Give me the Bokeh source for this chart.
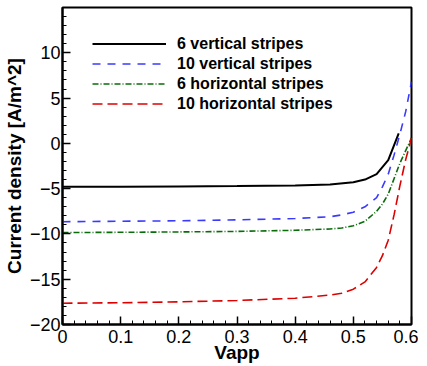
from bokeh.plotting import figure
from bokeh.models import FixedTicker, Legend, LegendItem, Range1d
from bokeh.embed import file_html
from bokeh.resources import INLINE

# ---- data ----
v_black = [0.0, 0.1, 0.2, 0.3, 0.4, 0.46, 0.50, 0.52, 0.54, 0.56, 0.578]
j_6_vertical = [-4.8, -4.78, -4.75, -4.72, -4.65, -4.55, -4.3, -4.0, -3.4, -1.85, 1.1]

v_grid = [0.0, 0.1, 0.2, 0.3, 0.4, 0.46, 0.48, 0.50, 0.52, 0.54, 0.55, 0.56, 0.57, 0.58, 0.59, 0.60]
j_10_vertical = [-8.65, -8.6, -8.55, -8.45, -8.3, -8.1, -7.9, -7.6, -7.0, -6.0, -4.8, -3.4, -1.3, 1.0, 3.5, 6.8]
j_6_horizontal = [-9.85, -9.82, -9.78, -9.72, -9.6, -9.45, -9.35, -9.1, -8.6, -7.5, -6.7, -5.6, -3.9, -2.2, -0.8, 0.6]
j_10_horizontal = [-17.65, -17.6, -17.5, -17.35, -17.1, -16.75, -16.55, -16.1, -15.3, -13.7, -12.4, -10.7, -7.9, -4.7, -1.8, 0.6]

series_labels = ["6 vertical stripes", "10 vertical stripes", "6 horizontal stripes", "10 horizontal stripes"]

x_ticks = [0.0, 0.1, 0.2, 0.3, 0.4, 0.5, 0.6]
x_tick_labels = ["0", "0.1", "0.2", "0.3", "0.4", "0.5", "0.6"]
y_ticks = [-20, -15, -10, -5, 0, 5, 10]
x_minor = [i / 50 for i in range(31)]
y_minor = list(range(-20, 16))

FONT = "Liberation Sans"

p = figure(frame_width=349, frame_height=317, output_backend="svg", toolbar_location=None,
           x_range=Range1d(0, 0.6), y_range=Range1d(-20, 15),
           min_border_left=55, min_border_right=7, min_border_top=7, min_border_bottom=30)

p.background_fill_color = "white"
p.border_fill_color = "white"
p.outline_line_color = "black"
p.outline_line_width = 2
p.grid.visible = False

r_black = p.line(v_black, j_6_vertical, line_color="black", line_width=2)
r_blue = p.line(v_grid, j_10_vertical, line_color="#3a3aff", line_width=1.6, line_dash="8 7")
r_green = p.line(v_grid, j_6_horizontal, line_color="#0a6b0a", line_width=1.6, line_dash="6 2 1 2")
r_red = p.line(v_grid, j_10_horizontal, line_color="#dd0000", line_width=1.6, line_dash="10 5")

for ax in (p.xaxis[0], p.yaxis[0]):
    ax.axis_line_width = 2
    ax.axis_line_color = "black"
    ax.major_tick_in = 8
    ax.major_tick_out = 0
    ax.minor_tick_in = 4
    ax.minor_tick_out = 0
    ax.major_tick_line_width = 1.5
    ax.minor_tick_line_width = 1
    ax.major_label_text_font = FONT
    ax.major_label_text_font_size = "18px"
    ax.major_label_text_color = "black"
    ax.axis_label_text_font = FONT
    ax.axis_label_text_font_size = "19px"
    ax.axis_label_text_font_style = "bold"
    ax.axis_label_text_color = "black"
    ax.major_label_standoff = 2
    ax.axis_label_standoff = 2

p.xaxis[0].ticker = FixedTicker(ticks=x_ticks, minor_ticks=x_minor)
p.xaxis[0].major_label_overrides = {t: s for t, s in zip(x_ticks, x_tick_labels)}
p.xaxis[0].major_label_standoff = 5
p.xaxis[0].axis_label_standoff = -4
p.yaxis[0].ticker = FixedTicker(ticks=y_ticks, minor_ticks=y_minor)
p.xaxis[0].axis_label = "Vapp"
p.yaxis[0].axis_label = "Current density [A/m^2]"

legend = Legend(items=[LegendItem(label=series_labels[0], renderers=[r_black]),
                       LegendItem(label=series_labels[1], renderers=[r_blue]),
                       LegendItem(label=series_labels[2], renderers=[r_green]),
                       LegendItem(label=series_labels[3], renderers=[r_red])],
                location=(30, 211))
legend.background_fill_alpha = 0
legend.border_line_alpha = 0
legend.padding = 0
legend.margin = 0
legend.spacing = 1
legend.glyph_width = 74
legend.glyph_height = 19
legend.label_height = 19
legend.label_standoff = 11
legend.label_text_font = FONT
legend.label_text_font_size = "16px"
legend.label_text_font_style = "bold"
legend.label_text_color = "black"
p.add_layout(legend)

open("out.html", "w").write(file_html(p, INLINE))
